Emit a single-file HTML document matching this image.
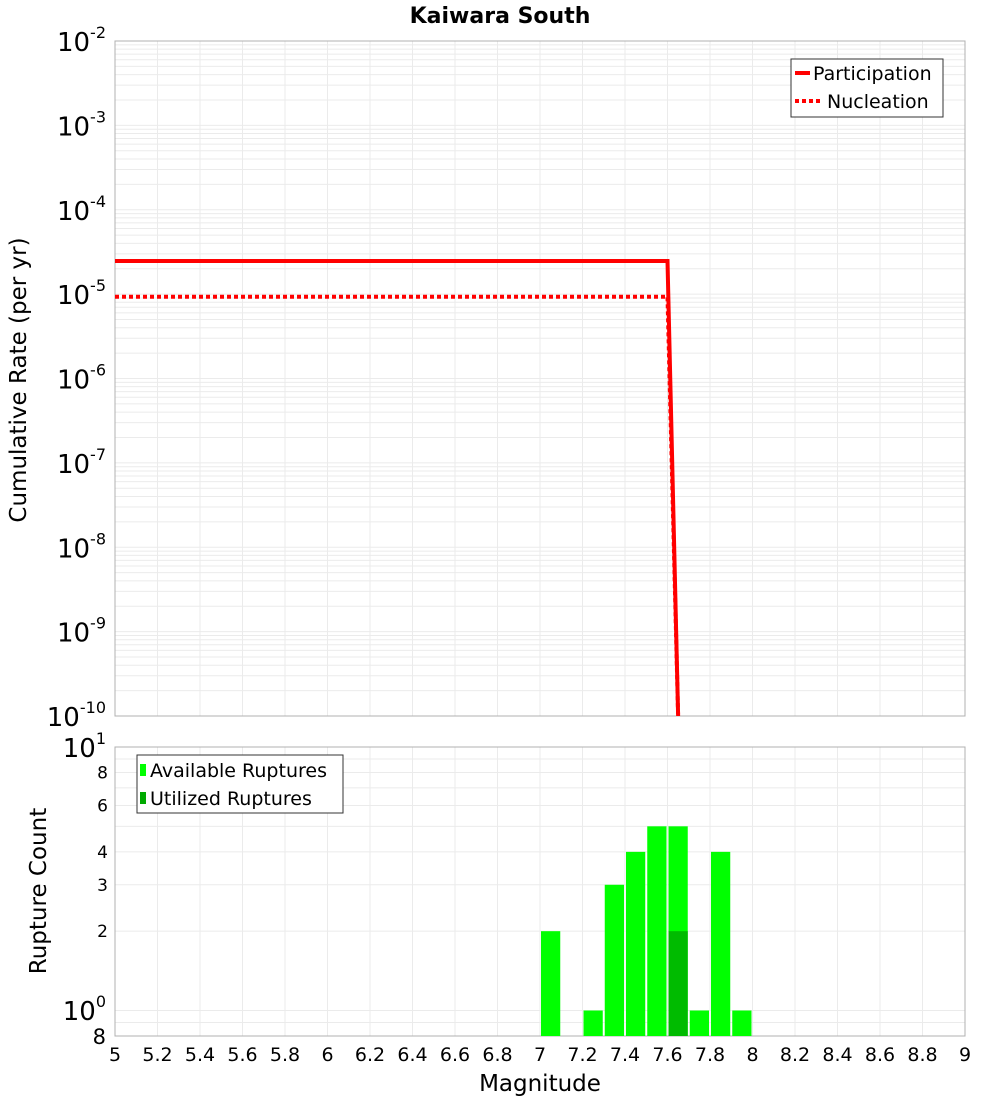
<!DOCTYPE html>
<html><head><meta charset="utf-8"><style>
body{margin:0;background:#fff;font-family:"DejaVu Sans","Liberation Sans",sans-serif}
svg{display:block}
</style></head><body>
<svg id="c" width="1000" height="1100" xmlns="http://www.w3.org/2000/svg"></svg>
<script>
const partMags=[5.0,7.6,7.65];
const partRates=[2.47e-5,2.47e-5,1e-10];
const nuclMags=[5.0,7.6,7.65];
const nuclRates=[9.3e-6,9.3e-6,1e-10];
const binStarts=[7.0,7.2,7.3,7.4,7.5,7.6,7.7,7.8,7.9];
const availCounts=[2,1,3,4,5,5,1,4,1];
const utilBins=[7.6];
const utilCounts=[2];
const xTicks=[5,5.2,5.4,5.6,5.8,6,6.2,6.4,6.6,6.8,7,7.2,7.4,7.6,7.8,8,8.2,8.4,8.6,8.8,9];
const topExps=[-2,-3,-4,-5,-6,-7,-8,-9,-10];
const botTicks=[8,6,4,3,2];

const NS="http://www.w3.org/2000/svg";
const svg=document.getElementById('c');
function el(t,a,p){const e=document.createElementNS(NS,t);for(const k in a)e.setAttribute(k,a[k]);(p||svg).appendChild(e);return e;}
const X0=115,X1=965;
const x=m=>X0+(m-5)/4*(X1-X0);
const T0=41,T1=716;
const yT=v=>T0+(-2-Math.log10(v))/8*(T1-T0);
const B0=747,BD=263.5;
const yB=v=>B0+(1-Math.log10(v))*BD;
const B1=1036;

const tg=el('g',{});


for(let e=-10;e<-2;e++)for(let k=1;k<10;k++){const yy=yT(k*Math.pow(10,e));el('line',{x1:X0,x2:X1,y1:yy,y2:yy,stroke:'#ebebeb','stroke-width':1},tg);}
xTicks.forEach(t=>el('line',{x1:x(t),x2:x(t),y1:T0,y2:T1,stroke:'#ebebeb'},tg));
const tf=el('rect',{x:X0,y:T0,width:X1-X0,height:T1-T0,fill:'none',stroke:'#b0b0b0'});



function path(ms,rs){return ms.map((m,i)=>(i?'L':'M')+x(m)+','+Math.min(yT(rs[i]),T1)).join(' ');}
const nl=el('path',{d:path(nuclMags,nuclRates),fill:'none',stroke:'#ff0000','stroke-width':4,'stroke-dasharray':'4,3'});


const pl=el('path',{d:path(partMags,partRates),fill:'none',stroke:'#ff0000','stroke-width':4});



topExps.forEach(e=>{const t=el('text',{x:106,y:yT(Math.pow(10,e))+10,'text-anchor':'end','font-size':26,fill:'#000'});


t.innerHTML='10<tspan dy="-13" font-size="16">'+e+'</tspan>';});

const ti=el('text',{x:500,y:23,'text-anchor':'middle','font-size':22,'font-weight':'bold'});


ti.textContent='Kaiwara South';
const yt=el('text',{x:26,y:380,'text-anchor':'middle','font-size':23,transform:'rotate(-90 26 380)'});


yt.textContent='Cumulative Rate (per yr)';

const lg=el('g',{});


el('rect',{x:791,y:59,width:152,height:58,fill:'#fff',stroke:'#333'},lg);
el('line',{x1:795,x2:810,y1:73,y2:73,stroke:'#f00','stroke-width':4},lg);
el('line',{x1:795,x2:822,y1:101,y2:101,stroke:'#f00','stroke-width':4,'stroke-dasharray':'4,3'},lg);
const l1=el('text',{x:813,y:80,'font-size':19},lg);l1.textContent='Participation';
const l2=el('text',{x:827,y:108,'font-size':19},lg);l2.textContent='Nucleation';

const bg=el('g',{});


for(let k=1;k<=10;k++){const yy=yB(k);if(yy<=B1)el('line',{x1:X0,x2:X1,y1:yy,y2:yy,stroke:'#ebebeb'},bg);}
[0.8,0.9].forEach(v=>{const yy=yB(v);if(yy<=B1)el('line',{x1:X0,x2:X1,y1:yy,y2:yy,stroke:'#ebebeb'},bg);});
xTicks.forEach(t=>el('line',{x1:x(t),x2:x(t),y1:B0,y2:B1,stroke:'#ebebeb'},bg));
const bf=el('rect',{x:X0,y:B0,width:X1-X0,height:B1-B0,fill:'none',stroke:'#b0b0b0'});



binStarts.forEach((b,i)=>{const yy=yB(availCounts[i]);const r=el('rect',{x:x(b)+1,y:yy,width:x(b+0.1)-x(b)-2,height:B1-yy,fill:'#00ff00'});

});
utilBins.forEach((b,i)=>{const yy=yB(utilCounts[i]);const r=el('rect',{x:x(b)+1,y:yy,width:x(b+0.1)-x(b)-2,height:B1-yy,fill:'#00bb00'});

});

botTicks.forEach(v=>{const t=el('text',{x:108,y:yB(v)+6,'text-anchor':'end','font-size':17});


t.textContent=v;});
const t10=el('text',{x:106,y:757,'text-anchor':'end','font-size':26});


t10.innerHTML='10<tspan dy="-13" font-size="16">1</tspan>';
const t1=el('text',{x:106,y:1020,'text-anchor':'end','font-size':26});


t1.innerHTML='10<tspan dy="-13" font-size="16">0</tspan>';
const t8=el('text',{x:106,y:1044,'text-anchor':'end','font-size':21});


t8.textContent='8';
const by=el('text',{x:46,y:891,'text-anchor':'middle','font-size':23,transform:'rotate(-90 46 891)'});


by.textContent='Rupture Count';

const bl=el('g',{});


el('rect',{x:137,y:755,width:206,height:58,fill:'#fff',stroke:'#333'},bl);
el('rect',{x:140,y:764,width:6,height:12,fill:'#00ff00'},bl);
el('rect',{x:140,y:792,width:6,height:12,fill:'#00aa00'},bl);
const b1=el('text',{x:150,y:777,'font-size':19},bl);b1.textContent='Available Ruptures';
const b2=el('text',{x:150,y:805,'font-size':19},bl);b2.textContent='Utilized Ruptures';

xTicks.forEach(t=>{const tx=el('text',{x:x(t),y:1061,'text-anchor':'middle','font-size':19});


tx.textContent=String(t);});
const xt=el('text',{x:540,y:1091,'text-anchor':'middle','font-size':23});


xt.textContent='Magnitude';
</script>
</body></html>
